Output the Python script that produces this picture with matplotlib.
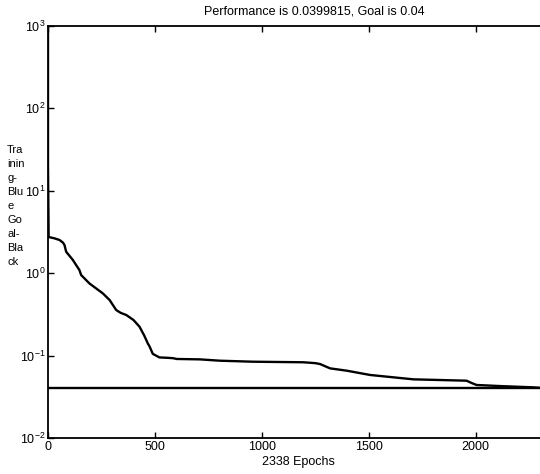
import matplotlib
matplotlib.use("Agg")
import matplotlib.pyplot as plt
import numpy as np

plt.rcParams.update({
    "font.family": ["Liberation Sans", "DejaVu Sans"],
    "mathtext.fontset": "custom",
    "mathtext.rm": "Liberation Sans",
    "font.size": 9,
    "xtick.direction": "in",
    "ytick.direction": "in",
    "xtick.top": True,
    "ytick.right": True,
})

# training curve
epochs = [0, 0, 3, 30, 54, 70, 77, 85, 116, 147, 155, 194, 256, 288, 319,
          340, 366, 400, 428, 450, 467, 475, 490, 521, 560, 585, 602, 710,
          804, 959, 1193, 1250, 1272, 1319, 1397, 1506, 1709, 1957, 1985,
          2004, 2113, 2268, 2338]
perf = [1000, 20, 2.75, 2.65, 2.53, 2.35, 2.2, 1.82, 1.45, 1.09, 0.95,
        0.75, 0.57, 0.473, 0.357, 0.33, 0.311, 0.27, 0.224, 0.175, 0.14,
        0.129, 0.105, 0.095, 0.094, 0.093, 0.091, 0.090, 0.0867, 0.0843,
        0.083, 0.081, 0.079, 0.070, 0.0656, 0.0582, 0.0515, 0.0496, 0.046,
        0.0440, 0.0427, 0.0412, 0.0399815]
goal = 0.04
n_epochs = 2338

fig = plt.figure(figsize=(5.4, 4.74), dpi=100)
ax = fig.add_axes([48 / 540, 36 / 474, 500 / 540, 412 / 474])

ax.semilogy(epochs, perf, color="black", linewidth=1.7)
ax.semilogy([0, n_epochs], [goal, goal], color="black", linewidth=1.7)

ax.set_xlim(0, n_epochs)
ax.set_ylim(1e-2, 1e3)
ax.set_xticks([0, 500, 1000, 1500, 2000])
ax.set_yticks([1e-2, 1e-1, 1e0, 1e1, 1e2, 1e3])
ax.minorticks_off()
ax.tick_params(length=4, width=1, labelsize=9, pad=2)
for s in ax.spines.values():
    s.set_linewidth(1.3)

ax.set_xlabel("2338 Epochs", fontsize=9, labelpad=2)
fig.text(314 / 540, 1 - 12 / 474, "Performance is 0.0399815, Goal is 0.04",
         ha="center", va="center", fontsize=9)
fig.text(7 / 540, 1 - 145 / 474,
         "Tra\ninin\ng-\nBlu\ne\nGo\nal-\nBla\nck",
         ha="left", va="top", fontsize=8, linespacing=1.5)

fig.savefig("out.png", dpi=100)
